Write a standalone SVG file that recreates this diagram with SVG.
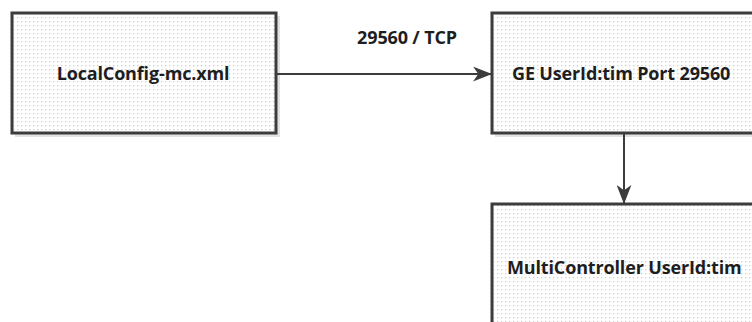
<svg xmlns="http://www.w3.org/2000/svg" width="752" height="322" viewBox="0 0 752 322">
<style>
.box{fill:url(#dots);stroke:#3c3c3c;stroke-width:3}
.shadow{fill:#e2e2e2}
.lbl{font-family:"Open Sans","Noto Sans",sans-serif;font-weight:bold;font-size:18px;fill:#1e1e1e;letter-spacing:-0.15px}
.conn{stroke:#3c3c3c;stroke-width:2;fill:none}
</style>
<defs>
<pattern id="dots" width="4" height="4" patternUnits="userSpaceOnUse">
<rect width="4" height="4" fill="#ffffff"/>
<rect x="1" y="1" width="1.3" height="1.3" fill="#cfcfcf"/>
</pattern>
<marker id="arr" viewBox="0 0 18 14" refX="17" refY="7" markerWidth="19" markerHeight="15" markerUnits="userSpaceOnUse" orient="auto">
<path d="M0,0 L18,7 L0,14 L5,7 Z" fill="#3c3c3c"/>
</marker>
</defs>
<g id="node-localconfig">
<rect class="shadow" x="15" y="16" width="265" height="121"/>
<rect class="box" x="12" y="13" width="264" height="120"/>
<text class="lbl" x="143" y="80" text-anchor="middle">LocalConfig-mc.xml</text>
</g>
<g id="node-ge">
<rect class="shadow" x="495" y="16" width="270" height="121"/>
<rect class="box" x="492" y="13" width="270" height="120"/>
<text class="lbl" x="512" y="80">GE UserId:tim Port 29560</text>
</g>
<g id="node-multicontroller">
<rect class="shadow" x="495" y="207" width="270" height="130"/>
<rect class="box" x="492" y="204" width="270" height="130"/>
<text class="lbl" x="507" y="274">MultiController UserId:tim</text>
</g>
<g id="connectors">
<line class="conn" x1="277" y1="74" x2="491" y2="74" marker-end="url(#arr)"/>
<text class="lbl" x="407" y="44" text-anchor="middle">29560 / TCP</text>
<line class="conn" x1="624" y1="134" x2="624" y2="203" marker-end="url(#arr)"/>
</g>
</svg>
